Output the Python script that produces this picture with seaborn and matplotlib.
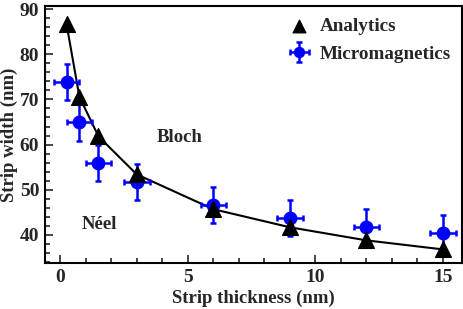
import matplotlib
matplotlib.use("Agg")
import matplotlib.pyplot as plt
import seaborn as sns
import pandas as pd
from matplotlib.ticker import MultipleLocator

# Data
ana_x = [0.25, 0.75, 1.5, 3, 6, 9, 12, 15]
ana_y = [86.6, 70.6, 61.8, 53.4, 45.7, 41.7, 38.8, 36.8]
mm_x = [0.25, 0.75, 1.5, 3, 6, 9, 12, 15]
mm_y = [73.8, 64.9, 55.9, 51.8, 46.7, 43.7, 41.7, 40.4]
mm_xerr = [0.5, 0.5, 0.5, 0.5, 0.5, 0.5, 0.5, 0.5]
mm_yerr = [4, 4, 4, 4, 4, 4, 4, 4]

sns.set_style("ticks")
plt.rcParams['font.family'] = ['Liberation Serif', 'DejaVu Serif']
plt.rcParams['font.weight'] = 'bold'

fig = plt.figure(figsize=(4.63, 3.09), dpi=100)
ax = fig.add_axes([0.097, 0.149, 0.901, 0.832])

df_a = pd.DataFrame({"x": ana_x, "y": ana_y})
sns.lineplot(data=df_a, x="x", y="y", ax=ax, color="black", lw=1.5, zorder=2)
ax.errorbar(mm_x, mm_y, xerr=mm_xerr, yerr=mm_yerr, fmt='o', color='#0000ff',
            ms=9, elinewidth=1.8, capsize=2.5, capthick=1.8, zorder=3,
            label="Micromagnetics")
sns.scatterplot(data=df_a, x="x", y="y", ax=ax, marker="^", s=130, color="black",
                edgecolor="black", zorder=4, label="Analytics")

ax.set_xlim(-0.6, 15.75)
ax.set_ylim(33.8, 90.7)
ax.xaxis.set_major_locator(MultipleLocator(5))
ax.xaxis.set_minor_locator(MultipleLocator(1))
ax.yaxis.set_major_locator(MultipleLocator(10))
ax.yaxis.set_minor_locator(MultipleLocator(2))
ax.tick_params(which='both', direction='in', top=False, right=False,
               labelsize=14, width=1.2, pad=4)
ax.tick_params(which='major', length=6)
ax.tick_params(which='minor', length=3.5)
for s in ax.spines.values():
    s.set_linewidth(1.5)
    s.set_color('black')

ax.set_xlabel("Strip thickness (nm)", fontsize=13.5, fontweight='bold', labelpad=3)
ax.set_ylabel("Strip width (nm)", fontsize=13.5, fontweight='bold', labelpad=1)

ax.text(4.7, 61.5, "Bloch", fontsize=13.5, fontweight='bold', ha='center', va='center')
ax.text(1.55, 42.3, "Néel", fontsize=13.5, fontweight='bold', ha='center', va='center')

h, l = ax.get_legend_handles_labels()
order = [l.index("Analytics"), l.index("Micromagnetics")]
leg = ax.legend([h[i] for i in order], [l[i] for i in order], loc='upper right',
                frameon=False, handlelength=1.5, handletextpad=0.3,
                borderaxespad=0.2, labelspacing=0.55, markerscale=0.8,
                prop={'weight': 'bold', 'size': 13.8})

fig.savefig("out.png", dpi=100)
